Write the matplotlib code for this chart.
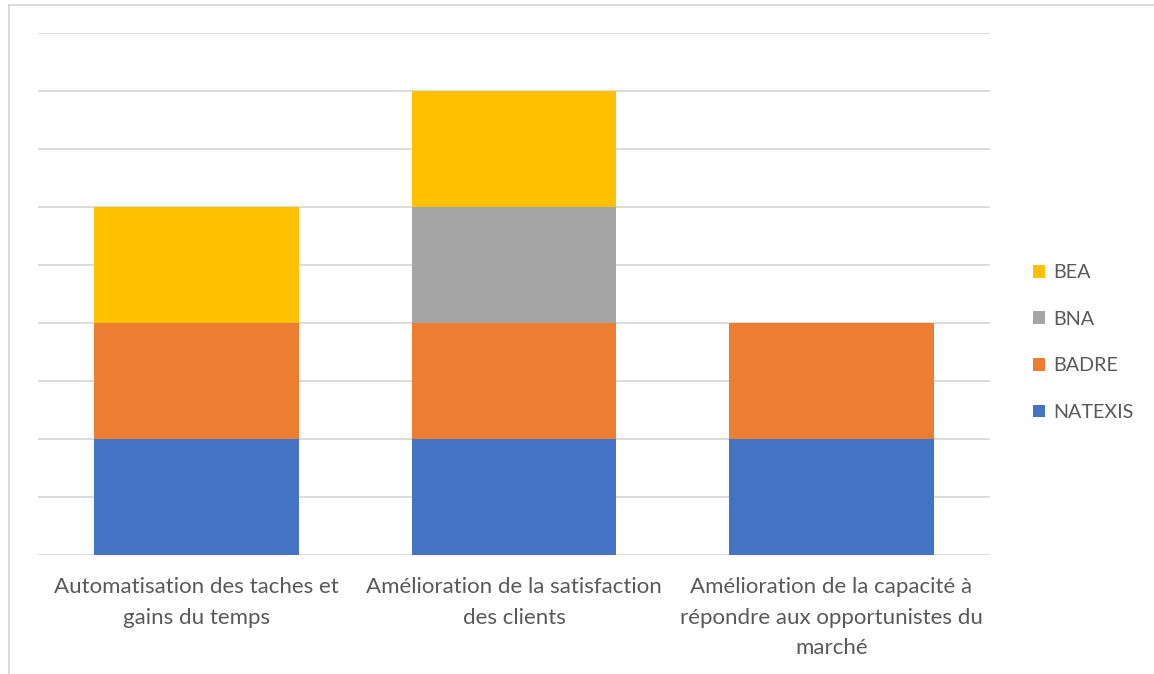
import matplotlib.pyplot as plt
import numpy as np
from matplotlib.patches import Patch
from matplotlib.lines import Line2D

categories = ["Automatisation des taches et\ngains du temps",
              "Amélioration de la satisfaction\ndes clients",
              "Amélioration de la capacité à\nrépondre aux opportunistes du\nmarché"]
series = ["NATEXIS", "BADRE", "BNA", "BEA"]
values = {
    "NATEXIS": [1, 1, 1],
    "BADRE": [1, 1, 1],
    "BNA": [0, 1, 0],
    "BEA": [1, 1, 0],
}
colors = {"NATEXIS": "#4472C4", "BADRE": "#ED7D31", "BNA": "#A5A5A5", "BEA": "#FFC000"}

plt.rcParams['font.family'] = ['Lato', 'DejaVu Sans']
txt = "#595959"

W, H = 1154, 674
fig = plt.figure(figsize=(W / 100, H / 100), dpi=100)
ax = fig.add_axes([38 / W, 1 - 555 / H, (990 - 38) / W, (555 - 33) / H])

x = np.arange(len(categories))
bottom = np.zeros(len(categories))
for s in series:
    v = np.array(values[s], dtype=float)
    ax.bar(x, v, width=0.645, bottom=bottom, color=colors[s], zorder=3, label=s)
    bottom += v

ax.set_xlim(-0.5, len(categories) - 0.5)
ax.set_ylim(0, 4.5)
ax.set_yticks(np.arange(0, 4.51, 0.5))
ax.yaxis.grid(True, color="#D9D9D9", linewidth=1.3, zorder=0)
ax.tick_params(left=False, labelleft=False, bottom=False)
for sp in ax.spines.values():
    sp.set_visible(False)
ax.set_xticks(x)
ax.set_xticklabels(categories, fontsize=16, color=txt, linespacing=1.66)
ax.tick_params(axis="x", pad=12.5)

handles = [Patch(facecolor=colors[s], label=s) for s in reversed(series)]
leg = fig.legend(handles=handles, loc="center left", bbox_to_anchor=(1015 / W, 1 - 342.5 / H),
                 frameon=False, fontsize=14.2, labelcolor=txt, handlelength=0.62, handleheight=0.62,
                 handletextpad=0.4, labelspacing=1.5)

# chart border (left and top edges visible in the crop)
fig.add_artist(Line2D([8.5 / W, 8.5 / W], [0, 1 - 4.5 / H], color="#D9D9D9", linewidth=1.3))
fig.add_artist(Line2D([8.5 / W, 1], [1 - 4.5 / H, 1 - 4.5 / H], color="#D9D9D9", linewidth=1.3))

fig.savefig("out.png", dpi=100)
